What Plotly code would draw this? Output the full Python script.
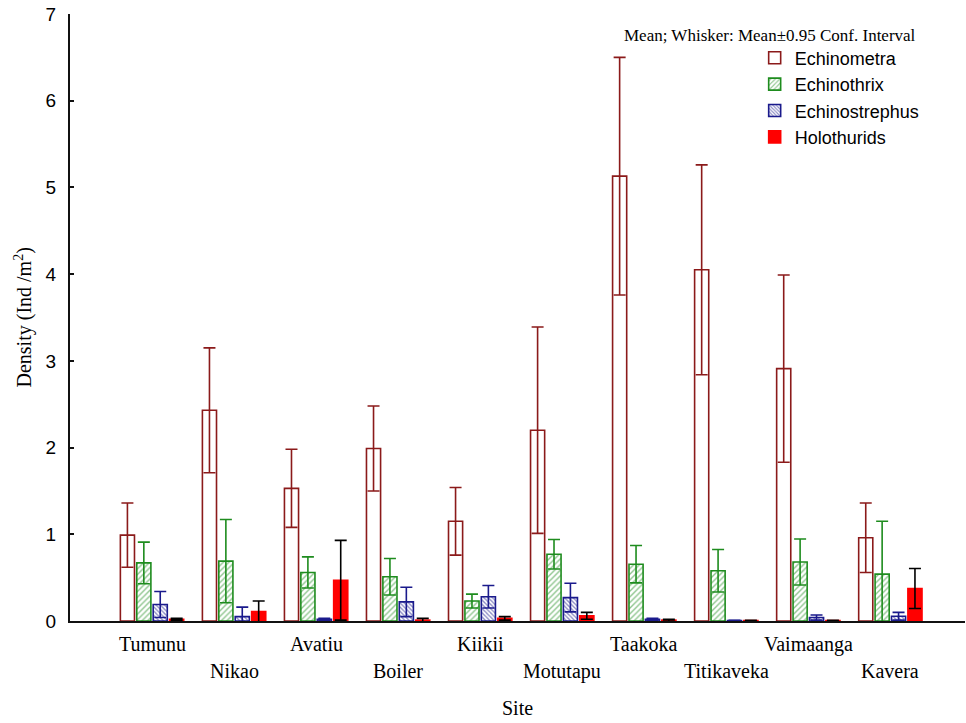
import plotly.graph_objects as go

sites = ["Tumunu", "Nikao", "Avatiu", "Boiler", "Kiikii", "Motutapu",
         "Taakoka", "Titikaveka", "Vaimaanga", "Kavera"]

echinometra_mean = [0.99, 2.43, 1.53, 1.99, 1.15, 2.20, 5.13, 4.05, 2.91, 0.96]
echinometra_ci = [0.37, 0.72, 0.45, 0.49, 0.39, 1.19, 1.37, 1.21, 1.08, 0.40]
echinothrix_mean = [0.67, 0.69, 0.56, 0.51, 0.23, 0.77, 0.655, 0.58, 0.68, 0.54]
echinothrix_ci = [0.24, 0.48, 0.18, 0.21, 0.08, 0.17, 0.215, 0.245, 0.265, 0.61]
echinostrephus_mean = [0.19, 0.05, 0.02, 0.22, 0.28, 0.27, 0.02, 0.005, 0.04, 0.055]
echinostrephus_ci = [0.15, 0.11, 0.01, 0.17, 0.13, 0.165, 0.01, 0.003, 0.03, 0.045]
holothurids_mean = [0.02, 0.11, 0.47, 0.01, 0.03, 0.06, 0.01, 0.005, 0.005, 0.375]
holothurids_ci = [0.01, 0.12, 0.46, 0.02, 0.02, 0.04, 0.01, 0.003, 0.003, 0.23]

y_ticks = [0, 1, 2, 3, 4, 5, 6, 7]

x_pos = list(range(len(sites)))

SERIF = "Liberation Serif, Times New Roman, serif"
SANS = "Liberation Sans, Arial, sans-serif"

series = [
    dict(name="Echinometra", mean=echinometra_mean, ci=echinometra_ci,
         line="#8B1A1A", fill="white", pattern=None, err="#8B1A1A"),
    dict(name="Echinothrix", mean=echinothrix_mean, ci=echinothrix_ci,
         line="#1E8C1E", fill="white",
         pattern=dict(shape="/", fgcolor="#1E8C1E", bgcolor="white", size=4, solidity=0.35),
         err="#1E8C1E"),
    dict(name="Echinostrephus", mean=echinostrephus_mean, ci=echinostrephus_ci,
         line="#1A1A8C", fill="white",
         pattern=dict(shape="\\", fgcolor="#1A1A8C", bgcolor="white", size=3, solidity=0.45),
         err="#1A1A8C"),
    dict(name="Holothurids", mean=holothurids_mean, ci=holothurids_ci,
         line="#FF0000", fill="#FF0000", pattern=None, err="black"),
]

fig = go.Figure()
for s in series:
    marker = dict(color=s["fill"], line=dict(color=s["line"], width=1.6))
    if s["pattern"] is not None:
        marker["pattern"] = s["pattern"]
    fig.add_trace(go.Bar(
        x=x_pos, y=s["mean"], name=s["name"], marker=marker,
        error_y=dict(type="data", array=s["ci"], visible=True,
                     color=s["err"], thickness=1.6, width=6),
        cliponaxis=False,
    ))

annotations = []
for i, name in enumerate(sites):
    annotations.append(dict(
        x=i, y=0, xref="x", yref="y", text=name, showarrow=False,
        yanchor="middle", xanchor="center",
        yshift=-23 if i % 2 == 0 else -50,
        font=dict(family=SERIF, size=20, color="black"),
    ))
annotations.append(dict(
    x=0.5, y=0, xref="paper", yref="paper", text="Site", showarrow=False,
    xanchor="center", yanchor="middle", yshift=-87,
    font=dict(family=SERIF, size=20, color="black"),
))
annotations.append(dict(
    x=0, y=0.5, xref="paper", yref="paper", text="Density (Ind /m<sup>2</sup>)",
    showarrow=False, textangle=-90, xanchor="center", yanchor="middle", xshift=-47,
    font=dict(family=SERIF, size=20, color="black"),
))
annotations.append(dict(
    x=0.782, y=0.965, xref="paper", yref="paper",
    text="Mean; Whisker: Mean±0.95 Conf. Interval", showarrow=False,
    xanchor="center", yanchor="middle",
    font=dict(family=SERIF, size=17, color="black"),
))

fig.update_layout(
    width=966, height=723,
    margin=dict(l=70, r=1, t=14, b=102),
    paper_bgcolor="white", plot_bgcolor="white",
    barmode="group", bargap=0.2, bargroupgap=0.14,
    showlegend=True,
    legend=dict(x=0.765, y=0.958, xanchor="left", yanchor="top",
                font=dict(family=SANS, size=18, color="black"),
                bgcolor="rgba(0,0,0,0)", tracegroupgap=0, itemwidth=30),
    annotations=annotations,
    xaxis=dict(range=[-1.0, 9.91], showticklabels=False, ticks="",
               showline=True, linecolor="#111", linewidth=2,
               showgrid=False, zeroline=False, fixedrange=True),
    yaxis=dict(range=[0, 7], tickvals=y_ticks, ticks="inside", ticklen=4,
               tickwidth=1.5, tickcolor="#111",
               showline=True, linecolor="#111", linewidth=2,
               showgrid=False, zeroline=False,
               tickfont=dict(family=SANS, size=19, color="black"),
               ticklabelstandoff=8),
)

fig.write_html("out.html")
